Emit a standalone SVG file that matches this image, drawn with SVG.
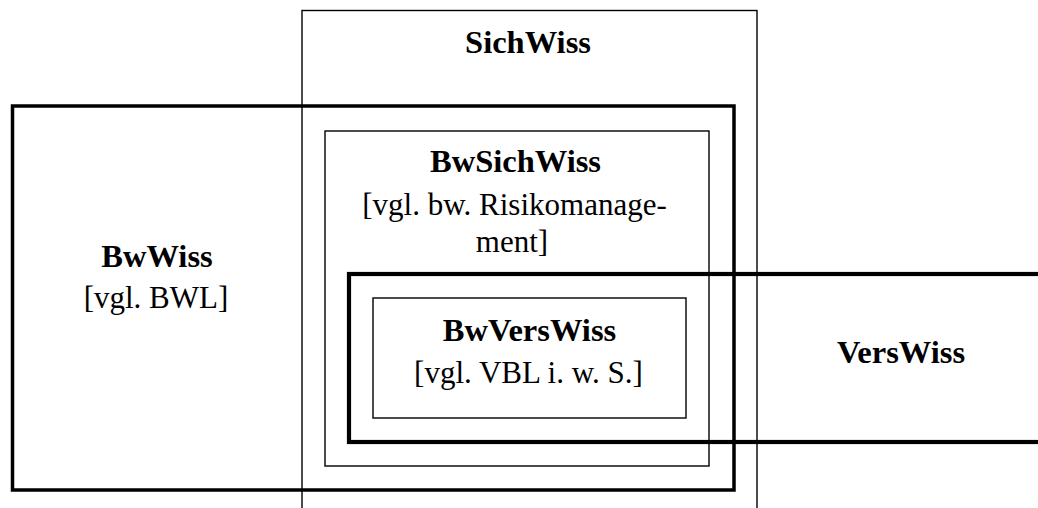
<svg xmlns="http://www.w3.org/2000/svg" width="1038" height="508" viewBox="0 0 1038 508">
<style>
.thin{fill:none;stroke:#000;stroke-width:1.4}
.thick{fill:none;stroke:#000;stroke-width:3.5}
.thicker{fill:none;stroke:#000;stroke-width:4.2}
text{font-family:"Liberation Serif","Times New Roman",serif;font-size:31px;fill:#000;text-anchor:middle}
.b{font-weight:bold;font-size:32.5px}
</style>
<rect width="1038" height="508" fill="#fff"/>
<g id="SichWiss">
<rect class="thin" x="302" y="10.5" width="455" height="520"/>
<text class="b" x="528" y="53">SichWiss</text>
</g>
<g id="BwWiss">
<rect class="thick" x="12.5" y="106" width="721.5" height="384"/>
<text class="b" x="157" y="267">BwWiss</text>
<text x="156" y="308">[vgl. BWL]</text>
</g>
<g id="BwSichWiss">
<rect class="thin" x="325" y="131" width="384" height="335"/>
<text class="b" x="515.5" y="172">BwSichWiss</text>
<text x="514.5" y="215">[vgl. bw. Risikomanage-</text>
<text x="512" y="252">ment]</text>
</g>
<g id="VersWiss">
<rect class="thicker" x="349" y="274" width="720" height="168"/>
<text class="b" x="901" y="363">VersWiss</text>
</g>
<g id="BwVersWiss">
<rect class="thin" x="373" y="298" width="313" height="120"/>
<text class="b" x="529.5" y="341">BwVersWiss</text>
<text x="528.5" y="383">[vgl. VBL i. w. S.]</text>
</g>
<g id="connectors"></g>
</svg>
